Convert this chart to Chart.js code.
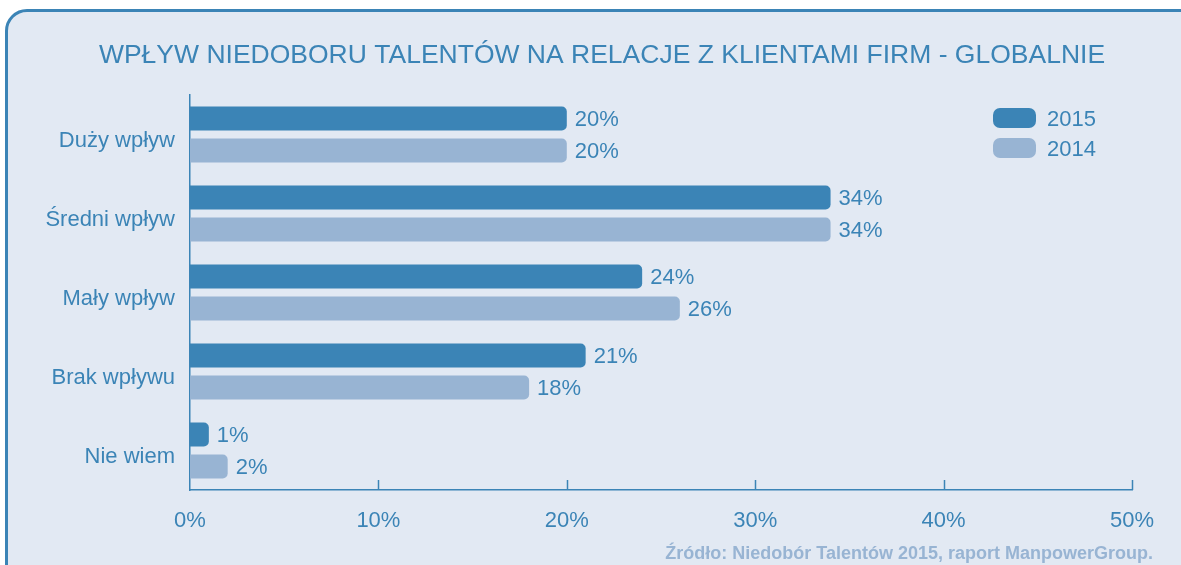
<!DOCTYPE html>
<html>
<head>
<meta charset="utf-8">
<script src="https://cdn.jsdelivr.net/npm/chart.js@4.4.1/dist/chart.umd.min.js"></script>
<style>
  html, body { margin: 0; padding: 0; background: #ffffff; overflow: hidden; }
  #panel {
    position: absolute; left: 5px; top: 9px; width: 1250px; height: 580px;
    background: #e2e9f3; border: 3px solid #3b84b6; border-radius: 22px; box-sizing: border-box;
  }
  #wrap { position: absolute; left: 0; top: 0; width: 1181px; height: 565px; }
</style>
</head>
<body>
<div id="panel"></div>
<div id="wrap"><canvas id="chart" width="1181" height="565"></canvas></div>
<script>
const categories = ['Duży wpływ', 'Średni wpływ', 'Mały wpływ', 'Brak wpływu', 'Nie wiem'];
const values2015 = [20, 34, 24, 21, 1];
const values2014 = [20, 34, 26, 18, 2];
const xTicks = [0, 10, 20, 30, 40, 50];

const title = 'WPŁYW NIEDOBORU TALENTÓW NA RELACJE Z KLIENTAMI FIRM - GLOBALNIE';
const source = 'Źródło: Niedobór Talentów 2015, raport ManpowerGroup.';

const BLUE = '#3b84b6';
const LIGHT = '#98b4d3';
const FONT = "'Liberation Sans', Arial, sans-serif";

// title, legend, value labels, source, axis ticks
const extras = {
    id: 'extras',
    afterDatasetsDraw(chart) {
        const c = chart.ctx;
        const area = chart.chartArea;
        c.save();

        // title
        c.fillStyle = BLUE;
        c.font = '26.5px ' + FONT;
        c.textAlign = 'center';
        c.textBaseline = 'middle';
        c.fillText(title, 602, 56);

        // value labels
        c.font = '22px ' + FONT;
        c.textAlign = 'left';
        chart.data.datasets.forEach((ds, i) => {
            chart.getDatasetMeta(i).data.forEach((bar, j) => {
                c.fillText(ds.data[j] + '%', bar.x + 8, bar.y + 1);
            });
        });

        // legend
        chart.data.datasets.forEach((ds, i) => {
            const y = 108 + i * 30;
            c.fillStyle = ds.backgroundColor;
            c.beginPath();
            c.roundRect(993, y, 43, 20, 7);
            c.fill();
            c.fillStyle = BLUE;
            c.fillText(ds.label, 1047, y + 12);
        });

        // tick marks on x axis
        const xs = chart.scales.x;
        c.strokeStyle = BLUE;
        c.lineWidth = 1.5;
        xTicks.slice(1).forEach(v => {
            const px = Math.round(xs.getPixelForValue(v)) + 0.5;
            c.beginPath();
            c.moveTo(px, area.bottom - 10);
            c.lineTo(px, area.bottom);
            c.stroke();
        });

        // source
        c.fillStyle = LIGHT;
        c.font = 'bold 18px ' + FONT;
        c.textAlign = 'right';
        c.fillText(source, 1153, 554);
        c.restore();
    }
};

new Chart(document.getElementById('chart'), {
    type: 'bar',
    data: {
        labels: categories,
        datasets: [
            { label: '2015', data: values2015, backgroundColor: BLUE },
            { label: '2014', data: values2014, backgroundColor: LIGHT }
        ]
    },
    options: {
        indexAxis: 'y',
        responsive: false,
        animation: false,
        layout: { padding: { top: 95, right: 49, left: 0, bottom: 0 } },
        categoryPercentage: 0.81,
        barPercentage: 0.75,
        elements: {
            bar: { borderRadius: 5, borderSkipped: 'start' }
        },
        plugins: {
            legend: { display: false },
            tooltip: { enabled: false }
        },
        scales: {
            x: {
                min: 0,
                max: 50,
                afterFit: s => { s.height = 75; },
                afterBuildTicks: s => { s.ticks = xTicks.map(v => ({ value: v })); },
                grid: { display: false, drawTicks: false },
                border: { display: true, color: BLUE, width: 1.5 },
                ticks: {
                    color: BLUE,
                    padding: 18,
                    font: { family: FONT, size: 22 },
                    callback: v => v + '%'
                }
            },
            y: {
                afterFit: s => { s.width = 190; },
                grid: { display: false, drawTicks: false },
                border: { display: true, color: BLUE, width: 1.5 },
                ticks: {
                    color: BLUE,
                    padding: 15,
                    labelOffset: 6,
                    font: { family: FONT, size: 22 }
                }
            }
        }
    },
    plugins: [extras]
});
</script>
</body>
</html>
